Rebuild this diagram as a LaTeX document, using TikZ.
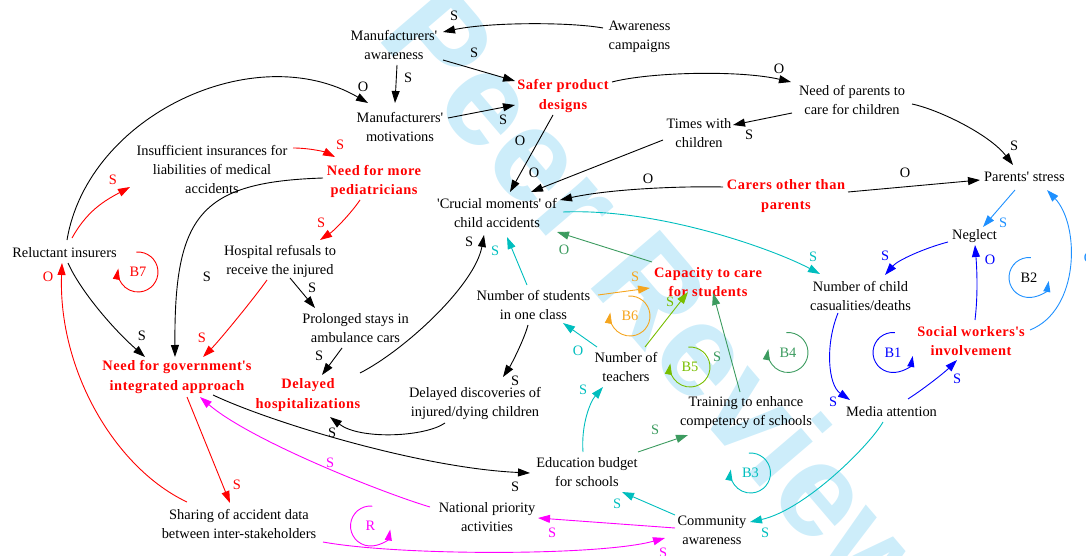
\documentclass[tikz,border=0pt]{standalone}
\usepackage{fontspec}
\setmainfont{Liberation Serif}
\newfontfamily\hotfont{Liberation Serif}[LetterSpace=4]
\newfontfamily\wmfont{Liberation Sans}
\usetikzlibrary{arrows.meta}
\newcommand\myq{\textquotesingle}
\definecolor{cteal}{RGB}{0,190,190}
\definecolor{cgreen}{RGB}{60,155,95}
\definecolor{cyg}{RGB}{120,190,0}
\definecolor{corange}{RGB}{245,165,30}
\definecolor{cdodger}{RGB}{30,144,255}
\definecolor{cmag}{RGB}{255,0,255}
\definecolor{cwm}{RGB}{205,237,250}
\tikzset{
  txt/.style={align=center, inner sep=0pt, font=\fontsize{14.4}{19}\selectfont},
  hot/.style={align=center, inner sep=0pt, text=red, font=\hotfont\bfseries\fontsize{14.4}{19.5}\selectfont},
  lab/.style={inner sep=0pt, font=\fontsize{14.4}{17}\selectfont},
  link/.style={line width=0.9pt, -{Triangle[length=12pt,width=8pt]}},
  loopmark/.style={line width=0.9pt, -{Triangle[length=11pt,width=7pt]}},
}
\begin{document}
\begin{tikzpicture}[x=1pt,y=-1pt]
\useasboundingbox (0,0) rectangle (1086,556);

% background stamp
\node[font=\wmfont\bfseries\fontsize{132}{132}\selectfont, text=cwm, rotate=-49.5] (wm) at (664,302) {Peer Review};

% variables
\node[txt] (maw) at (394,45) {Manufacturers\myq\\awareness};
\node[txt] (awc) at (639.5,36.5) {Awareness\\campaigns};
\node[txt] (mmo) at (400,127) {Manufacturers\myq\\motivations};
\node[hot] (spd) at (563,96) {Safer product\\designs};
\node[txt] (npc) at (852,100) {Need of parents to\\care for children};
\node[txt] (twc) at (699,133) {Times with\\children};
\node[txt] (pst) at (1024.5,177) {Parents\myq{} stress};
\node[hot] (cop) at (786,196) {Carers other than\\parents};
\node[txt] (cru) at (497,213) {\myq Crucial moments\myq{} of\\child accidents};
\node[txt] (ins) at (212,170) {Insufficient insurances for\\liabilities of medical\\accidents};
\node[hot] (nmp) at (374,181.5) {Need for more\\pediatricians};
\node[txt] (rel) at (64.5,253) {Reluctant insurers};
\node[txt] (hos) at (280,261) {Hospital refusals to\\receive the injured};
\node[txt] (pro) at (355.5,328.5) {Prolonged stays in\\ambulance cars};
\node[hot] (nga) at (177,377) {Need for government\myq s\\integrated approach};
\node[hot] (dho) at (308,395) {Delayed\\hospitalizations};
\node[txt] (ddi) at (475,403.5) {Delayed discoveries of\\injured/dying children};
\node[txt] (nst) at (533.5,305) {Number of students\\in one class};
\node[hot] (cap) at (708,282) {Capacity to care\\for students};
\node[txt] (nte) at (626,366.5) {Number of\\teachers};
\node[txt] (tra) at (746,412.5) {Training to enhance\\competency of schools};
\node[txt] (edu) at (587,472) {Education budget\\for schools};
\node[txt] (nat) at (487,517) {National priority\\activities};
\node[txt] (com) at (712,530) {Community\\awareness};
\node[txt] (sha) at (239,524) {Sharing of accident data\\between inter-stakeholders};
\node[txt] (ncc) at (860.5,296) {Number of child\\casualities/deaths};
\node[txt] (neg) at (974.5,236) {Neglect};
\node[hot] (sow) at (971,341) {Social workers\myq s\\involvement};
\node[txt] (med) at (891.5,412) {Media attention};

% black links
\draw[link] ([shift={(-36.5,-8.5)}]awc.center) .. controls (570,22) and (490,22) .. ([shift={(49,-13)}]maw.center);
\draw[link] ([shift={(49,15)}]maw.center) -- ([shift={(-48,-15)}]spd.center);
\draw[link] ([shift={(3,20)}]maw.center) -- ([shift={(-5,-24)}]mmo.center);
\draw[link] ([shift={(2.5,-13)}]rel.center) .. controls (88,115) and (255,37.5) .. ([shift={(-32,-24)}]mmo.center);
\draw[link] ([shift={(48,-9)}]mmo.center) -- ([shift={(-48,9)}]spd.center);
\draw[link] ([shift={(-10,19)}]spd.center) -- ([shift={(13,-21)}]cru.center);
\draw[link] ([shift={(49,-14)}]spd.center) .. controls (650,72) and (740,70) .. ([shift={(-61,-18)}]npc.center);
\draw[link] ([shift={(-60,13)}]npc.center) -- ([shift={(34,-8)}]twc.center);
\draw[link] ([shift={(60,4)}]npc.center) .. controls (940,110) and (990,135) .. ([shift={(-11.5,-12)}]pst.center);
\draw[link] ([shift={(-36,7)}]twc.center) -- ([shift={(34,-21)}]cru.center);
\draw[link] ([shift={(-63,-9)}]cop.center) .. controls (680,186) and (610,189) .. ([shift={(63,-13)}]cru.center);
\draw[link] ([shift={(62,-4)}]cop.center) -- ([shift={(-44.5,3)}]pst.center);
\draw[link] ([shift={(3.5,10)}]rel.center) .. controls (80,290) and (112,328) .. ([shift={(-32,-20)}]nga.center);
\draw[link] ([shift={(-51,-3.5)}]nmp.center) .. controls (200,182) and (174,215) .. ([shift={(-2,-20)}]nga.center);
\draw[link] ([shift={(10,17)}]hos.center) -- ([shift={(-40.5,-20.5)}]pro.center);
\draw[link] ([shift={(-13.5,19.5)}]pro.center) -- ([shift={(14,-20)}]dho.center);
\draw[link] ([shift={(52,-22)}]dho.center) .. controls (405,350) and (475,285) .. ([shift={(-13,22)}]cru.center);
\draw[link] ([shift={(-5.5,20)}]nst.center) .. controls (524,340) and (511,365) .. ([shift={(28,-26.5)}]ddi.center);
\draw[link] ([shift={(-30,19.5)}]ddi.center) .. controls (425,437) and (360,440) .. ([shift={(22,22)}]dho.center);
\draw[link] ([shift={(36,18)}]nga.center) .. controls (270,422) and (420,468) .. ([shift={(-57,1)}]edu.center);

% red links
\draw[link, red] ([shift={(7.5,-15)}]rel.center) .. controls (87,211) and (104,201) .. ([shift={(-82,17)}]ins.center);
\draw[link, red] ([shift={(81,-22)}]ins.center) .. controls (310,148) and (325,152) .. ([shift={(-39,-24.5)}]nmp.center);
\draw[link, red] ([shift={(-14,18.5)}]nmp.center) .. controls (352,212) and (335,230) .. ([shift={(40,-21)}]hos.center);
\draw[link, red] ([shift={(-13,19)}]hos.center) .. controls (255,297) and (220,340) .. ([shift={(26,-20)}]nga.center);
\draw[link, red] ([shift={(10,20)}]nga.center) -- ([shift={(-9,-21)}]sha.center);
\draw[link, red] ([shift={(-52,-22)}]sha.center) .. controls (115,468) and (58,370) .. ([shift={(-2.5,10)}]rel.center);

% teal links
\draw[link, cteal] ([shift={(66,-1)}]cru.center) .. controls (660,208) and (775,250) .. ([shift={(-40.5,-22)}]ncc.center);
\draw[link, cteal] ([shift={(-6.5,-20)}]nst.center) -- ([shift={(10,24)}]cru.center);
\draw[link, cteal] ([shift={(-29,-19.5)}]nte.center) -- ([shift={(29.5,18)}]nst.center);
\draw[link, cteal] ([shift={(-4,-20)}]edu.center) .. controls (581,425) and (590,402) .. ([shift={(-23,20.5)}]nte.center);
\draw[link, cteal] ([shift={(-37,-15)}]com.center) -- ([shift={(35,20)}]edu.center);
\draw[link, cteal] ([shift={(-8.5,10)}]med.center) .. controls (870,445) and (805,510) .. ([shift={(38,-8)}]com.center);

% green, yellow-green and orange links
\draw[link, cgreen] ([shift={(-56,-20)}]cap.center) -- ([shift={(60,19)}]cru.center);
\draw[link, cgreen] ([shift={(-6,-20.5)}]tra.center) -- ([shift={(5,11)}]cap.center);
\draw[link, cgreen] ([shift={(51,-20)}]edu.center) -- ([shift={(-58,22.5)}]tra.center);
\draw[link, cyg] ([shift={(19,-19.5)}]nte.center) -- ([shift={(-20,10)}]cap.center);
\draw[link, corange] ([shift={(64.5,-10)}]nst.center) -- ([shift={(-58,6)}]cap.center);

% blue links
\draw[link, blue] ([shift={(-26.5,6)}]neg.center) .. controls (925,248) and (898,260) .. ([shift={(24.5,-21)}]ncc.center);
\draw[link, blue] ([shift={(-22.5,17)}]ncc.center) .. controls (825,345) and (828,385) .. ([shift={(-41.5,-12)}]med.center);
\draw[link, blue] ([shift={(16.5,-13)}]med.center) .. controls (925,388) and (945,372) .. ([shift={(-14,19)}]sow.center);
\draw[link, blue] ([shift={(4,-21)}]sow.center) .. controls (978,295) and (977,270) .. ([shift={(0.5,9)}]neg.center);
\draw[link, cdodger] ([shift={(-9.5,13)}]pst.center) -- ([shift={(8.5,-9)}]neg.center);
\draw[link, cdodger] ([shift={(59,-11)}]sow.center) .. controls (1080,310) and (1080,225) .. ([shift={(22.5,13)}]pst.center);

% magenta links
\draw[link, cmag] ([shift={(-57,-10)}]nat.center) .. controls (380,492) and (250,440) .. ([shift={(23,20)}]nga.center);
\draw[link, cmag] ([shift={(-37,-2)}]com.center) -- ([shift={(51,1)}]nat.center);
\draw[link, cmag] ([shift={(84,18)}]sha.center) .. controls (400,556) and (600,556) .. ([shift={(-47,8)}]com.center);

% polarity signs
\node[lab] (p1) at (454,16) {S};
\node[lab] (p2) at (474,53) {S};
\node[lab] (p3) at (408,78) {S};
\node[lab] (p4) at (363,87) {O};
\node[lab] (p5) at (503,120) {S};
\node[lab] (p6) at (520,141) {O};
\node[lab] (p7) at (779,69) {O};
\node[lab] (p8) at (749,135) {S};
\node[lab] (p9) at (1014,146) {S};
\node[lab] (p10) at (534,173) {O};
\node[lab] (p11) at (648,179) {O};
\node[lab] (p12) at (905,173) {O};
\node[lab] (p13) at (142,336) {S};
\node[lab] (p14) at (207,277) {S};
\node[lab] (p15) at (312,288) {S};
\node[lab] (p16) at (319,356) {S};
\node[lab] (p17) at (469,242) {S};
\node[lab] (p18) at (515,381) {S};
\node[lab] (p19) at (332,433) {S};
\node[lab] (p20) at (515,487) {S};
\node[lab, text=red] (p21) at (113,180) {S};
\node[lab, text=red] (p22) at (340,145) {S};
\node[lab, text=red] (p23) at (321,223) {S};
\node[lab, text=red] (p24) at (202,338) {S};
\node[lab, text=red] (p25) at (237,485) {S};
\node[lab, text=red] (p26) at (48,277) {O};
\node[lab, text=cteal] (p27) at (813,257) {S};
\node[lab, text=cteal] (p28) at (495,251) {S};
\node[lab, text=cteal] (p29) at (578,351) {O};
\node[lab, text=cteal] (p30) at (583,390) {S};
\node[lab, text=cteal] (p31) at (617,504) {S};
\node[lab, text=cteal] (p32) at (765,533) {S};
\node[lab, text=cgreen] (p33) at (564,250) {O};
\node[lab, text=cgreen] (p34) at (717,357) {S};
\node[lab, text=cgreen] (p35) at (655,430) {S};
\node[lab, text=cyg] (p36) at (670,302) {S};
\node[lab, text=corange] (p37) at (635,277) {S};
\node[lab, text=blue] (p38) at (885,256) {S};
\node[lab, text=blue] (p39) at (833,402) {S};
\node[lab, text=blue] (p40) at (957,379) {S};
\node[lab, text=blue] (p41) at (990,260) {O};
\node[lab, text=cdodger] (p42) at (1003,223) {S};
\node[lab, text=cdodger] (p43) at (1089,258) {O};
\node[lab, text=cmag] (p44) at (330,463) {S};
\node[lab, text=cmag] (p45) at (552,533) {S};
\node[lab, text=cmag] (p46) at (663,553) {S};

% loop markers
\node[lab, text=red] (b7) at (138,272) {B7};
\draw[loopmark, red] ([shift={(-95:20)}]b7.center) arc[start angle=-95, end angle=190, radius=20];
\node[lab, text=corange] (b6) at (630,316) {B6};
\draw[loopmark, corange] ([shift={(-95:20)}]b6.center) arc[start angle=-95, end angle=190, radius=20];
\node[lab, text=cyg] (b5) at (690,367) {B5};
\draw[loopmark, cyg] ([shift={(-95:20)}]b5.center) arc[start angle=-95, end angle=190, radius=20];
\node[lab, text=cgreen] (b4) at (788,352.5) {B4};
\draw[loopmark, cgreen] ([shift={(-95:20)}]b4.center) arc[start angle=-95, end angle=190, radius=20];
\node[lab, text=cteal] (b3) at (750.5,473) {B3};
\draw[loopmark, cteal] ([shift={(-95:20)}]b3.center) arc[start angle=-95, end angle=190, radius=20];
\node[lab, text=blue] (b1) at (893,352.5) {B1};
\draw[loopmark, blue] ([shift={(-85:20)}]b1.center) arc[start angle=-85, end angle=-350, radius=20];
\node[lab] (b2) at (1029,277.5) {B2};
\draw[loopmark, cdodger] ([shift={(-85:20)}]b2.center) arc[start angle=-85, end angle=-350, radius=20];
\node[lab, text=cmag] (rr) at (370.5,526) {R};
\draw[loopmark, cmag] ([shift={(-85:20)}]rr.center) arc[start angle=-85, end angle=-350, radius=20];
\end{tikzpicture}
\end{document}
